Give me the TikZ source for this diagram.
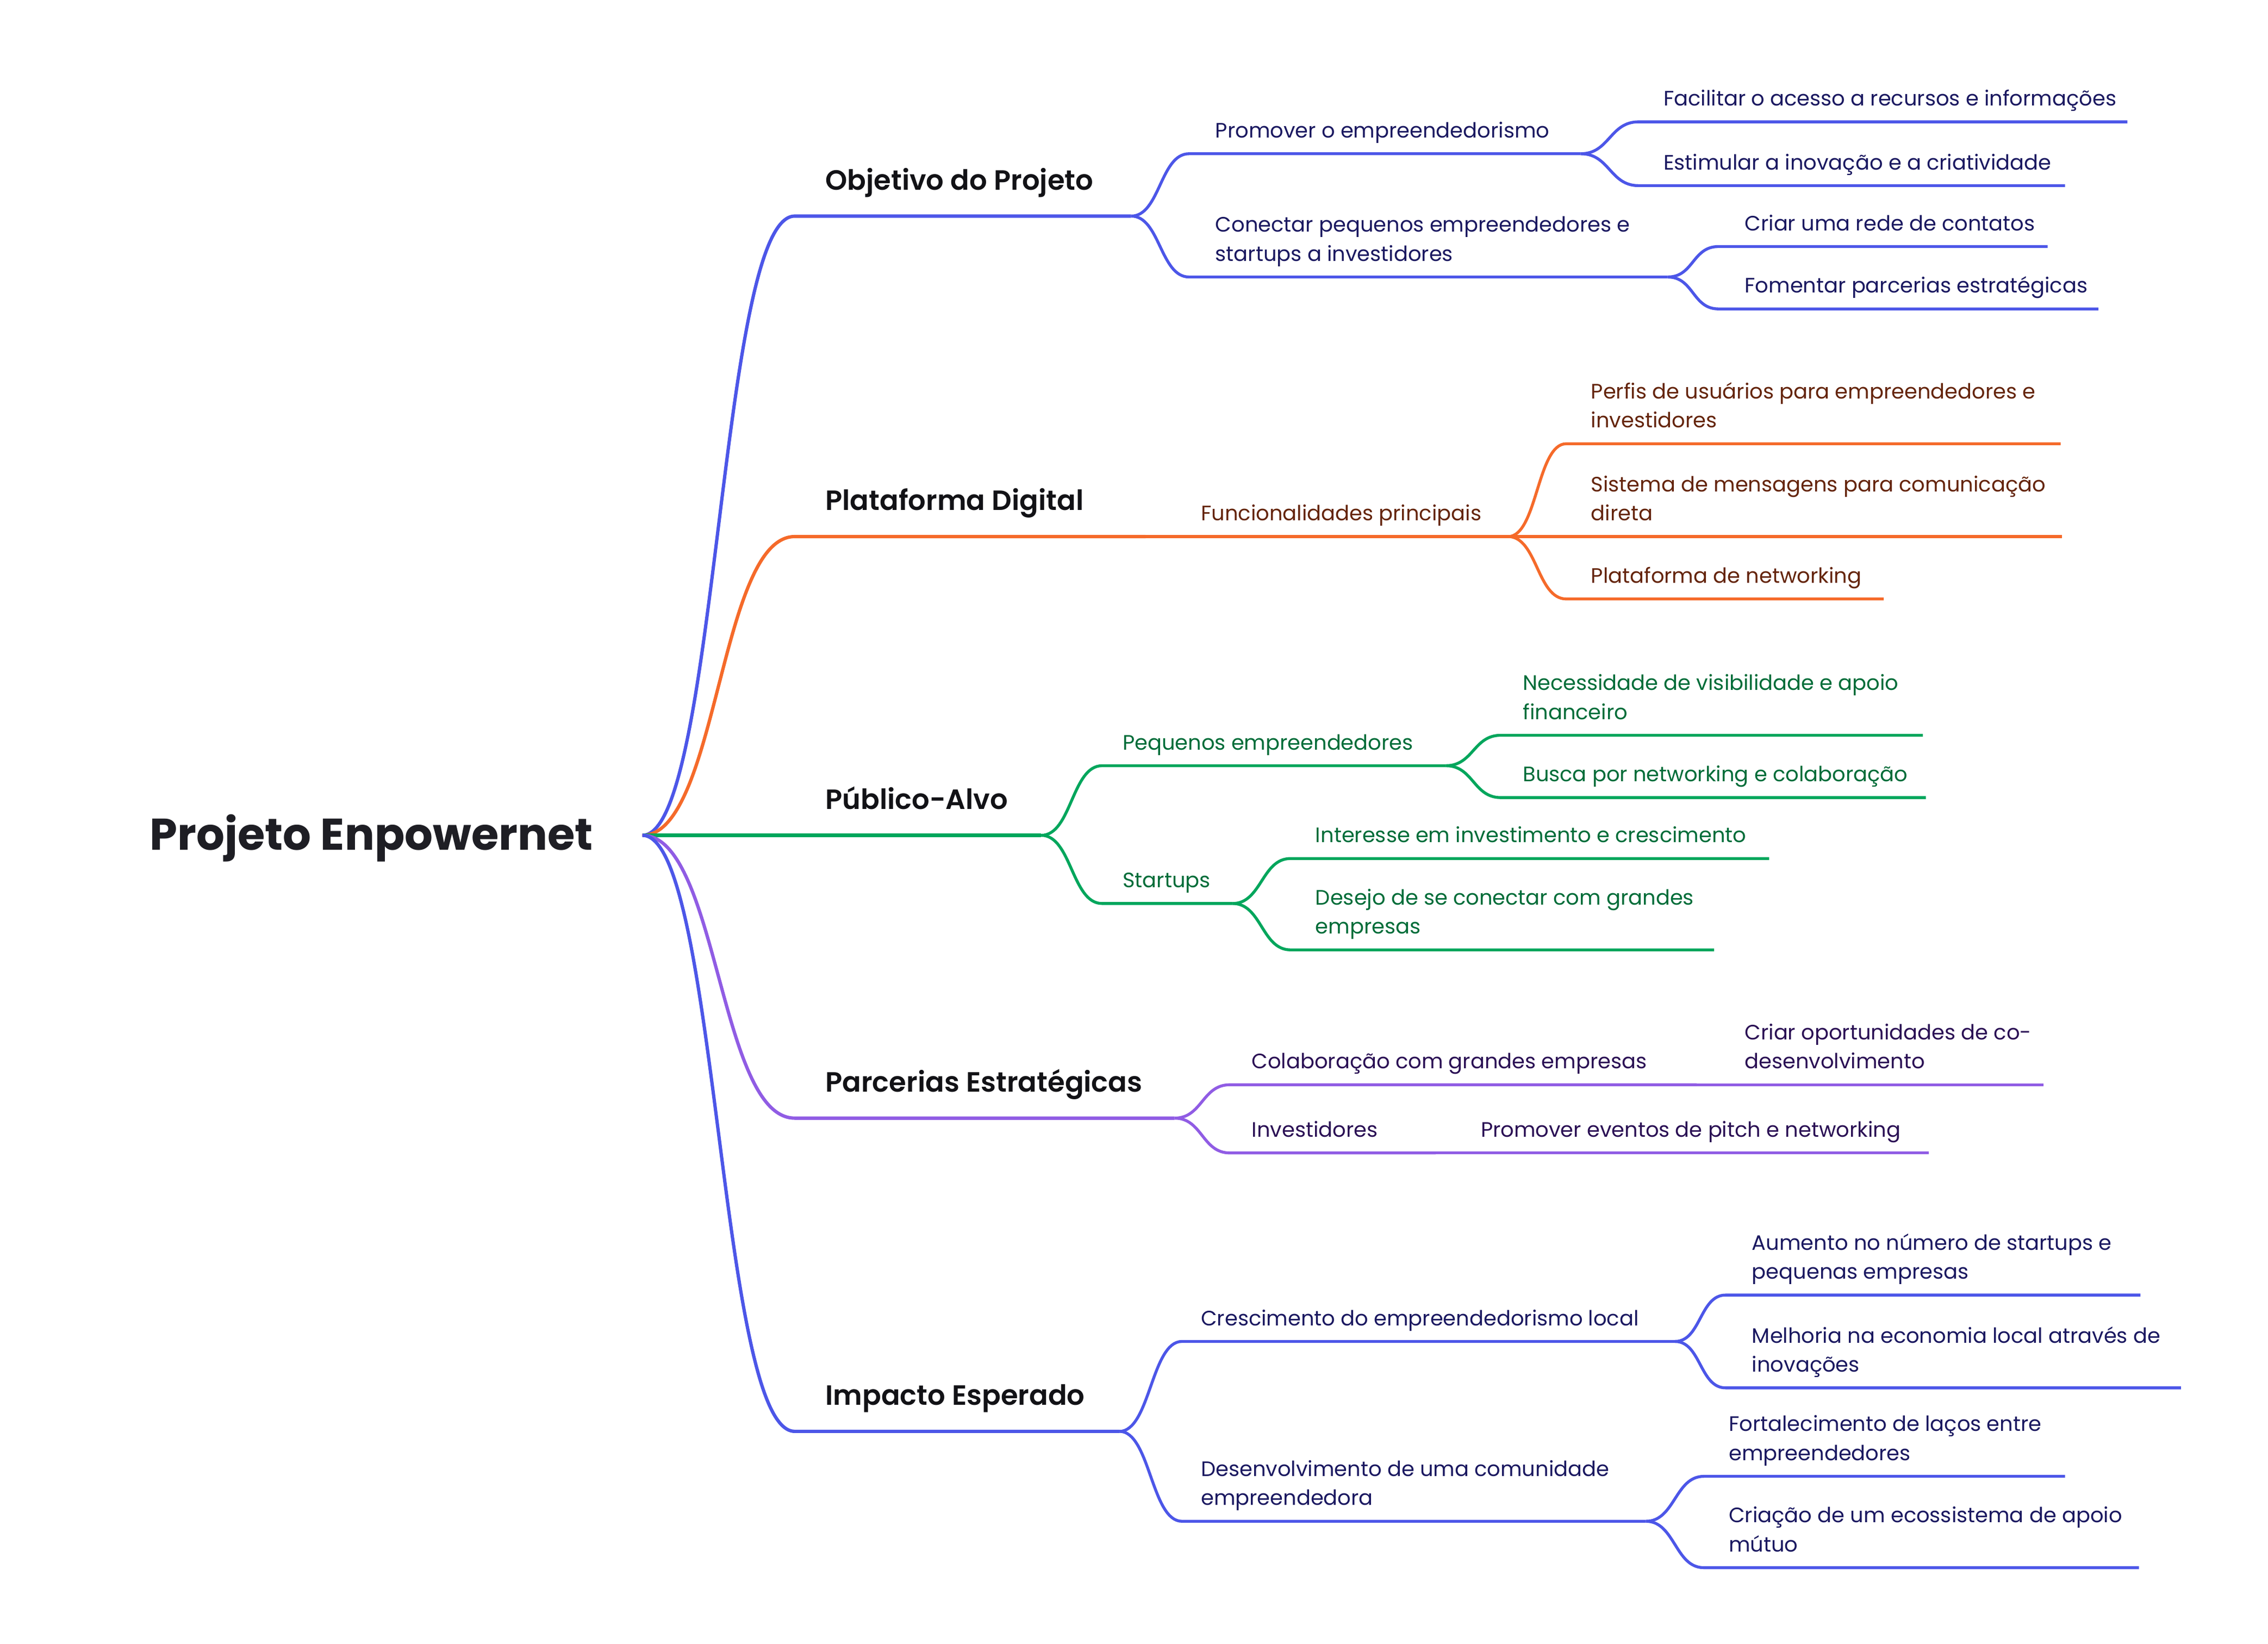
\documentclass[tikz,border=0pt]{standalone}
\usepackage{fontspec}
\setmainfont{Poppins}[BoldFont={Poppins SemiBold}]
\newfontfamily\rootface{Poppins Bold}

\definecolor{rootink}{RGB}{30,30,36}
\definecolor{mainink}{RGB}{18,18,22}
\definecolor{blueline}{RGB}{76,86,232}
\definecolor{blueink}{RGB}{26,24,96}
\definecolor{orangeline}{RGB}{245,106,42}
\definecolor{orangeink}{RGB}{100,36,12}
\definecolor{greenline}{RGB}{0,166,92}
\definecolor{greenink}{RGB}{0,108,56}
\definecolor{purpleline}{RGB}{144,92,228}
\definecolor{purpleink}{RGB}{42,16,84}

\begin{document}
\begin{tikzpicture}[
			x=1pt, y=-1pt,
			txt/.style={inner sep=0pt, anchor=base west, align=left},
			root/.style={txt, font=\fontsize{30.6}{36}\selectfont\rootface, text=rootink},
			main/.style={txt, font=\fontsize{19.2}{22}\selectfont\bfseries, text=mainink},
			leaf/.style={txt, font=\fontsize{14.4}{20}\selectfont},
			leaf-blue/.style={leaf, text=blueink},
			leaf-orange/.style={leaf, text=orangeink},
			leaf-green/.style={leaf, text=greenink},
			leaf-purple/.style={leaf, text=purpleink},
			trunk/.style={line width=2.3pt},
			twig/.style={line width=2pt},
			]

			\newcommand{\link}[4]{\draw[#4] (#1) .. controls +(#3,0) and +(-#3,0) .. (#2-s) -- (#2-e);}

			\useasboundingbox (0,0) rectangle (1564,1133.5);

			\node [root] (root) at (103,586) {Projeto Enpowernet};
			\coordinate (root-e) at (443,576);

			\node [main] (obj)  at (569,131) {Objetivo do Projeto};
			\node [main] (plat) at (569,352) {Plataforma Digital};
			\node [main] (pub)  at (569,558) {Público-Alvo};
			\node [main] (parc) at (569,753) {Parcerias Estratégicas};
			\node [main] (imp)  at (569,969) {Impacto Esperado};

			\coordinate (obj-s)  at (548,149); \coordinate (obj-e)  at (780,149);
			\coordinate (plat-s) at (548,370); \coordinate (plat-e) at (790,370);
			\coordinate (pub-s)  at (548,576); \coordinate (pub-e)  at (718,576);
			\coordinate (parc-s) at (548,771); \coordinate (parc-e) at (810,771);
			\coordinate (imp-s)  at (548,987); \coordinate (imp-e)  at (772,987);

			\node [leaf-blue] (pro) at (838,95)  {Promover o empreendedorismo};
			\node [leaf-blue] (con) at (838,180) {Conectar pequenos empreendedores e\\startups a investidores};
			\node [leaf-blue] (fac) at (1147,73)  {Facilitar o acesso a recursos e informações};
			\node [leaf-blue] (est) at (1147,117) {Estimular a inovação e a criatividade};
			\node [leaf-blue] (cri) at (1203,159) {Criar uma rede de contatos};
			\node [leaf-blue] (fom) at (1203,202) {Fomentar parcerias estratégicas};

			\coordinate (pro-s) at (820,106);  \coordinate (pro-e) at (1090,106);
			\coordinate (con-s) at (820,191);  \coordinate (con-e) at (1150,191);
			\coordinate (fac-s) at (1130,84);  \coordinate (fac-e) at (1467,84);
			\coordinate (est-s) at (1130,128); \coordinate (est-e) at (1424,128);
			\coordinate (cri-s) at (1185,170); \coordinate (cri-e) at (1412,170);
			\coordinate (fom-s) at (1185,213); \coordinate (fom-e) at (1447,213);

			\node [leaf-orange] (fun) at (828,359)  {Funcionalidades principais};
			\node [leaf-orange] (per) at (1097,295) {Perfis de usuários para empreendedores e\\investidores};
			\node [leaf-orange] (sis) at (1097,359) {Sistema de mensagens para comunicação\\direta};
			\node [leaf-orange] (plt) at (1097,402) {Plataforma de networking};

			\coordinate (fun-s) at (810,370);  \coordinate (fun-e) at (1040,370);
			\coordinate (per-s) at (1080,306); \coordinate (per-e) at (1421,306);
			\coordinate (sis-s) at (1080,370); \coordinate (sis-e) at (1422,370);
			\coordinate (plt-s) at (1080,413); \coordinate (plt-e) at (1299,413);

			\node [leaf-green] (peq) at (774,517)  {Pequenos empreendedores};
			\node [leaf-green] (sta) at (774,612)  {Startups};
			\node [leaf-green] (nec) at (1050,496) {Necessidade de visibilidade e apoio\\financeiro};
			\node [leaf-green] (bus) at (1050,539) {Busca por networking e colaboração};
			\node [leaf-green] (int) at (907,581)  {Interesse em investimento e crescimento};
			\node [leaf-green] (des) at (907,644)  {Desejo de se conectar com grandes\\empresas};

			\coordinate (peq-s) at (760,528);  \coordinate (peq-e) at (997,528);
			\coordinate (sta-s) at (760,623);  \coordinate (sta-e) at (850,623);
			\coordinate (nec-s) at (1035,507); \coordinate (nec-e) at (1326,507);
			\coordinate (bus-s) at (1035,550); \coordinate (bus-e) at (1328,550);
			\coordinate (int-s) at (890,592);  \coordinate (int-e) at (1220,592);
			\coordinate (des-s) at (890,655);  \coordinate (des-e) at (1182,655);

			\node [leaf-purple] (col) at (863,737)  {Colaboração com grandes empresas};
			\node [leaf-purple] (cop) at (1203,737) {Criar oportunidades de co-\\desenvolvimento};
			\node [leaf-purple] (inv) at (863,784)  {Investidores};
			\node [leaf-purple] (pev) at (1021,784) {Promover eventos de pitch e networking};

			\coordinate (col-s) at (848,748);  \coordinate (col-e) at (1170,748);
			\coordinate (cop-s) at (1188,748); \coordinate (cop-e) at (1409,748);
			\coordinate (inv-s) at (848,795);  \coordinate (inv-e) at (990,795);
			\coordinate (pev-s) at (1005,795); \coordinate (pev-e) at (1330,795);

			\node [leaf-blue] (cre) at (828,914)  {Crescimento do empreendedorismo local};
			\node [leaf-blue] (dev) at (828,1038) {Desenvolvimento de uma comunidade\\empreendedora};
			\node [leaf-blue] (aum) at (1208,882) {Aumento no número de startups e\\pequenas empresas};
			\node [leaf-blue] (mel) at (1208,946) {Melhoria na economia local através de\\inovações};
			\node [leaf-blue] (for) at (1192,1007) {Fortalecimento de laços entre\\empreendedores};
			\node [leaf-blue] (cec) at (1192,1070) {Criação de um ecossistema de apoio\\mútuo};

			\coordinate (cre-s) at (815,925);   \coordinate (cre-e) at (1155,925);
			\coordinate (dev-s) at (815,1049);  \coordinate (dev-e) at (1135,1049);
			\coordinate (aum-s) at (1190,893);  \coordinate (aum-e) at (1476,893);
			\coordinate (mel-s) at (1190,957);  \coordinate (mel-e) at (1504,957);
			\coordinate (for-s) at (1175,1018); \coordinate (for-e) at (1424,1018);
			\coordinate (cec-s) at (1175,1081); \coordinate (cec-e) at (1475,1081);

			\link{root-e}{obj}{52}{trunk, blueline}
			\link{root-e}{plat}{52}{trunk, orangeline}
			\link{root-e}{pub}{52}{trunk, greenline}
			\link{root-e}{parc}{52}{trunk, purpleline}
			\link{root-e}{imp}{52}{trunk, blueline}

			\link{obj-e}{pro}{20}{twig, blueline}
			\link{obj-e}{con}{20}{twig, blueline}
			\link{pro-e}{fac}{20}{twig, blueline}
			\link{pro-e}{est}{20}{twig, blueline}
			\link{con-e}{cri}{18}{twig, blueline}
			\link{con-e}{fom}{18}{twig, blueline}

			\link{plat-e}{fun}{10}{twig, orangeline}
			\link{fun-e}{per}{20}{twig, orangeline}
			\link{fun-e}{sis}{20}{twig, orangeline}
			\link{fun-e}{plt}{20}{twig, orangeline}

			\link{pub-e}{peq}{21}{twig, greenline}
			\link{pub-e}{sta}{21}{twig, greenline}
			\link{peq-e}{nec}{19}{twig, greenline}
			\link{peq-e}{bus}{19}{twig, greenline}
			\link{sta-e}{int}{20}{twig, greenline}
			\link{sta-e}{des}{20}{twig, greenline}

			\link{parc-e}{col}{19}{twig, purpleline}
			\link{parc-e}{inv}{19}{twig, purpleline}
			\link{col-e}{cop}{9}{twig, purpleline}
			\link{inv-e}{pev}{8}{twig, purpleline}

			\link{imp-e}{cre}{21}{twig, blueline}
			\link{imp-e}{dev}{21}{twig, blueline}
			\link{cre-e}{aum}{18}{twig, blueline}
			\link{cre-e}{mel}{18}{twig, blueline}
			\link{dev-e}{for}{20}{twig, blueline}
			\link{dev-e}{cec}{20}{twig, blueline}

		\end{tikzpicture}
\end{document}
